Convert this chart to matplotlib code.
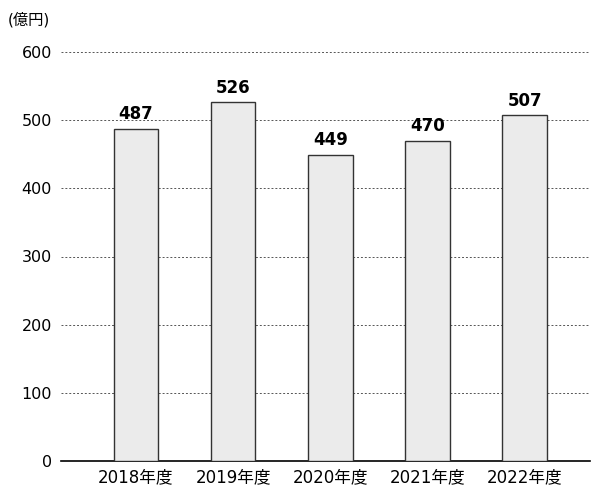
import matplotlib
matplotlib.use("Agg")
from matplotlib import pyplot as plt

plt.rcParams['font.family'] = ['DejaVu Sans', 'Noto Sans CJK JP']

# データ
years = ["2018年度", "2019年度", "2020年度", "2021年度", "2022年度"]
values = [487, 526, 449, 470, 507]
yticks = [0, 100, 200, 300, 400, 500, 600]

fig = plt.figure(figsize=(5.95, 4.88), dpi=100)
ax = fig.add_axes([61 / 595, 27 / 488, 529 / 595, 409 / 488])

x = range(len(years))
ax.bar(x, values, width=0.46, color="#ebebeb", edgecolor="#333333", linewidth=1, zorder=3)

for i, v in zip(x, values):
    ax.annotate(str(v), (i, v), xytext=(0, 4), textcoords="offset points",
                ha="center", va="bottom", fontsize=12, fontweight="bold", zorder=4)

ax.set_xlim(-0.77, 4.67)
ax.set_ylim(0, 600)
ax.set_yticks(yticks)
ax.set_yticklabels([str(t) for t in yticks], fontsize=11.5)
ax.set_xticks(list(x))
ax.set_xticklabels(years, fontsize=12)

ax.grid(axis="y", linestyle=(0, (2, 2)), color="#555555", linewidth=0.7, zorder=0)
for s in ["top", "right", "left"]:
    ax.spines[s].set_visible(False)
ax.spines["bottom"].set_color("black")
ax.spines["bottom"].set_linewidth(1.2)
ax.tick_params(axis="y", length=0, pad=6.5)
ax.tick_params(axis="x", length=0, pad=5)

fig.text(8 / 595, 1 - 20 / 488, "(億円)", fontsize=11, ha="left", va="center")

plt.savefig("out.png", dpi=100)
